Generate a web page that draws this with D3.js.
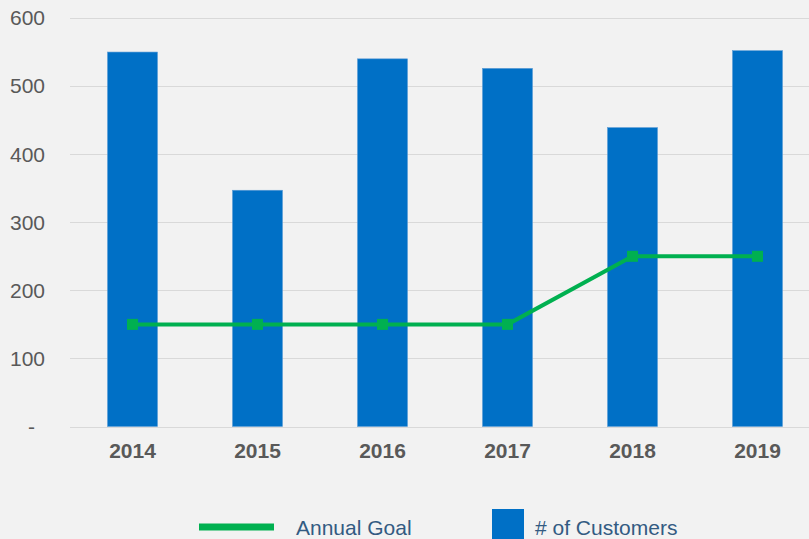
<!DOCTYPE html>
<html>
<head>
<meta charset="utf-8">
<script src="https://cdn.jsdelivr.net/npm/d3@7"></script>
<style>
  html, body { margin: 0; padding: 0; background: #f2f2f2; }
  svg { display: block; font-family: "Liberation Sans", Arial, sans-serif; }
</style>
</head>
<body>
<svg id="chart" width="809" height="539"></svg>
<script>
const years = ['2014', '2015', '2016', '2017', '2018', '2019'];
const customers = [550, 347, 540, 526, 439, 552];
const annualGoal = [150, 150, 150, 150, 250, 250];
const yTicks = [0, 100, 200, 300, 400, 500, 600];

const svg = d3.select('#chart');
const width = +svg.attr('width');

svg.append('rect')
  .attr('width', width)
  .attr('height', svg.attr('height'))
  .attr('fill', '#f2f2f2');

const x = d3.scaleBand().domain(years).range([70, 820]).paddingInner(0.6).paddingOuter(0.3);
const y = d3.scaleLinear().domain([0, 600]).range([426.5, 18]);

// gridlines
svg.append('g')
  .selectAll('line')
  .data(yTicks)
  .enter()
  .append('line')
    .attr('x1', 70)
    .attr('x2', width)
    .attr('y1', d => Math.round(y(d)) + 0.5)
    .attr('y2', d => Math.round(y(d)) + 0.5)
    .attr('stroke', '#d9d9d9')
    .attr('stroke-width', 1);

// y labels
svg.append('g')
  .selectAll('text')
  .data(yTicks)
  .enter()
  .append('text')
    .attr('x', d => d === 0 ? 35 : 45)
    .attr('y', d => y(d))
    .attr('dy', '0.35em')
    .attr('text-anchor', 'end')
    .attr('fill', '#595959')
    .style('font-size', '21px')
    .text(d => d === 0 ? '-' : d);

// bars
svg.append('g')
  .selectAll('rect')
  .data(customers)
  .enter()
  .append('rect')
    .attr('x', (d, i) => x(years[i]))
    .attr('y', d => y(d))
    .attr('width', x.bandwidth())
    .attr('height', d => y(0) - y(d))
    .attr('fill', '#0070c6')
    .attr('stroke', '#5b9bd5')
    .attr('stroke-width', 0.6);

// x labels
svg.append('g')
  .selectAll('text')
  .data(years)
  .enter()
  .append('text')
    .attr('x', d => x(d) + x.bandwidth() / 2)
    .attr('y', 458)
    .attr('text-anchor', 'middle')
    .attr('fill', '#595959')
    .style('font-size', '21px')
    .style('font-weight', 'bold')
    .text(d => d);

// goal line
const line = d3.line()
  .x((d, i) => x(years[i]) + x.bandwidth() / 2)
  .y(d => y(d));

svg.append('path')
  .datum(annualGoal)
  .attr('d', line)
  .attr('fill', 'none')
  .attr('stroke', '#00b050')
  .attr('stroke-width', 4);

svg.append('g')
  .selectAll('rect')
  .data(annualGoal)
  .enter()
  .append('rect')
    .attr('x', (d, i) => x(years[i]) + x.bandwidth() / 2 - 5.5)
    .attr('y', d => y(d) - 5.5)
    .attr('width', 11)
    .attr('height', 11)
    .attr('fill', '#00b050');

// legend
const legend = svg.append('g');
legend.append('line')
  .attr('x1', 199).attr('x2', 274)
  .attr('y1', 527).attr('y2', 527)
  .attr('stroke', '#00b050')
  .attr('stroke-width', 7);
legend.append('text')
  .attr('x', 296).attr('y', 535)
  .attr('fill', '#335b82')
  .style('font-size', '21px')
  .text('Annual Goal');
legend.append('rect')
  .attr('x', 492).attr('y', 509)
  .attr('width', 32).attr('height', 32)
  .attr('fill', '#0070c6');
legend.append('text')
  .attr('x', 535).attr('y', 535)
  .attr('fill', '#335b82')
  .style('font-size', '21px')
  .text('# of Customers');
</script>
</body>
</html>
